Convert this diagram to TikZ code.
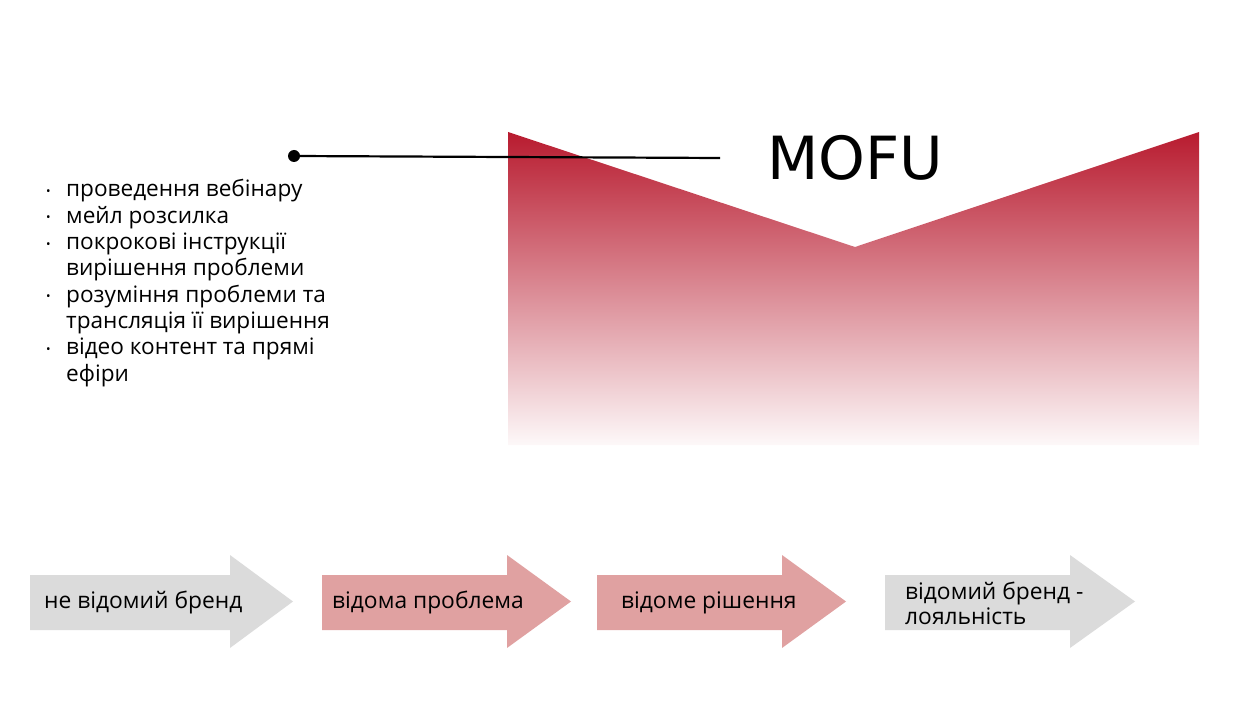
\documentclass[tikz,border=0pt]{standalone}
\usepackage{fontspec}
\setmainfont{Open Sans}
\newfontfamily\mofufont{DejaVu Sans}
\usepackage{xcolor}
\usetikzlibrary{positioning, calc}

\definecolor{mofured}{RGB}{184,27,47}
\definecolor{arrowgray}{RGB}{219,219,219}
\definecolor{arrowpink}{RGB}{224,161,161}

\newcommand{\dotitem}{\raisebox{1.5pt}{\fontsize{12}{12}\selectfont\textbullet}}

\tikzset{
  stagetext/.style={anchor=west, align=left, font=\fontsize{22.8}{25}\selectfont, inner sep=0pt},
  graystage/.style={fill=arrowgray},
  pinkstage/.style={fill=arrowpink}
}

\begin{document}
\begin{tikzpicture}[x=1pt, y=-1pt]
\useasboundingbox (0,0) rectangle (1260,708);

% Funnel shape with gradient
\shade[top color=mofured, bottom color=mofured!3]
  (508,132) -- (855,247) -- (1199,132) -- (1199,445) -- (508,445) -- cycle;

% Label and pointer line
\node[anchor=base west, inner sep=0pt, font=\mofufont\fontsize{59.5}{59.5}\selectfont] (mofu) at (767,180) {MOFU};
\node[circle, fill=black, inner sep=0pt, minimum size=12pt] (dot) at (294,156) {};
\coordinate (lineend) at (720,158);
\draw[line width=2.2pt] (dot.center) -- (lineend);

% Bullet list
\node[anchor=base west, inner sep=0pt, align=left] (tactics) at (46,197) {%
  \fontsize{22.6}{26.3}\selectfont
  \begin{tabular}[t]{@{}p{20pt}@{}l@{}}
  \dotitem & проведення вебінару\\
  \dotitem & мейл розсилка\\
  \dotitem & покрокові інструкції\\
   & вирішення проблеми\\
  \dotitem & розуміння проблеми та\\
   & трансляція її вирішення\\
  \dotitem & відео контент та прямі\\
   & ефіри
  \end{tabular}};

% Stage arrows
\fill[graystage] (30,575) -- (230,575) -- (230,555) -- (293,601.5) -- (230,648) -- (230,630) -- (30,630) -- cycle;
\node[stagetext] (unknown) at (44,603) {не відомий бренд};

\fill[pinkstage] (322,575) -- (507,575) -- (507,555) -- (571,601.5) -- (507,648) -- (507,630) -- (322,630) -- cycle;
\node[stagetext] (problem) at (332,603) {відома проблема};

\fill[pinkstage] (597,575) -- (782,575) -- (782,555) -- (846,601.5) -- (782,648) -- (782,630) -- (597,630) -- cycle;
\node[stagetext] (solution) at (621,603) {відоме рішення};

\fill[graystage] (885,575) -- (1070,575) -- (1070,555) -- (1135,601.5) -- (1070,648) -- (1070,630) -- (885,630) -- cycle;
\node[stagetext] (loyal) at (905,603) {відомий бренд -\\лояльність};

\end{tikzpicture}
\end{document}
